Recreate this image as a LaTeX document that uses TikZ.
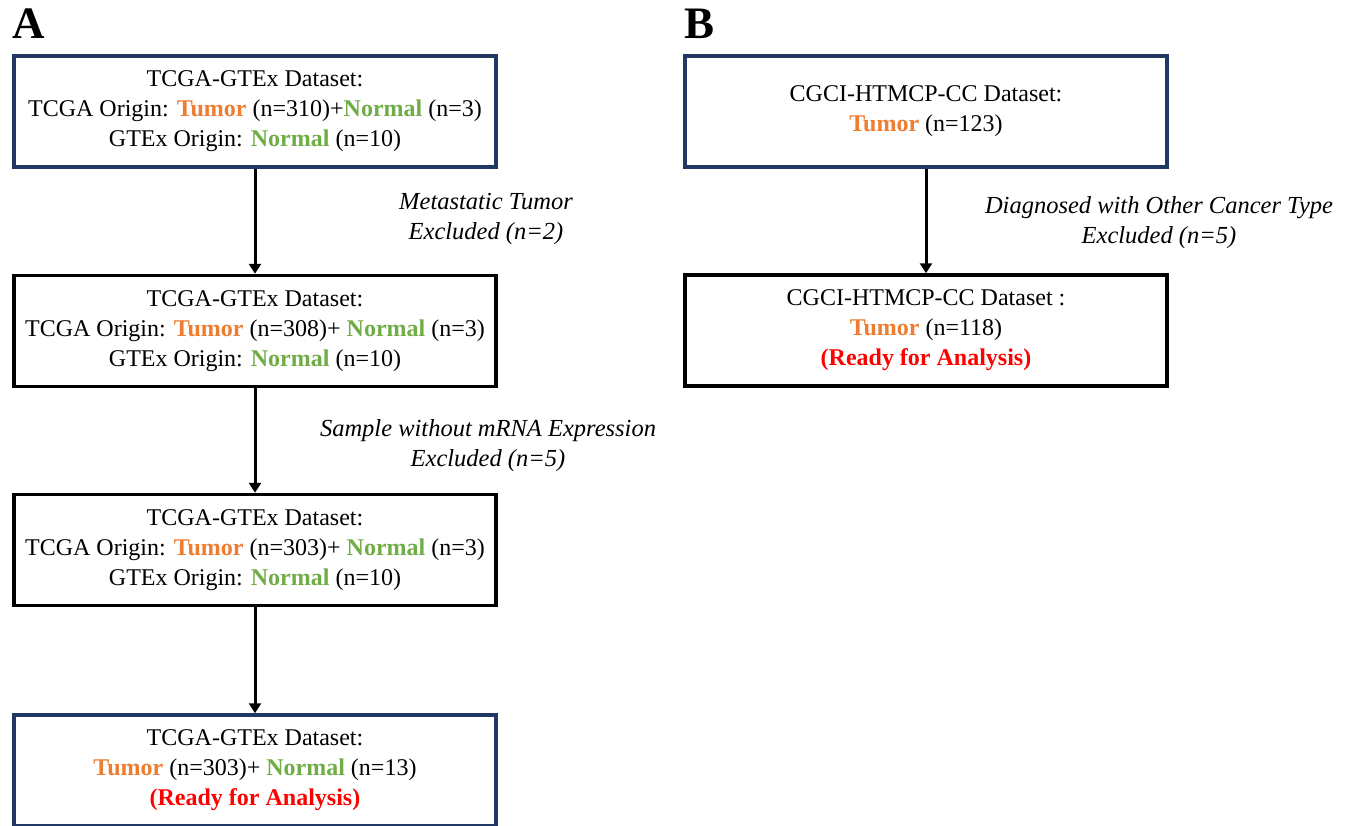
\documentclass[tikz,border=0pt]{standalone}
\usepackage{fontspec}
\setmainfont{Liberation Serif}
\usetikzlibrary{arrows.meta}

\definecolor{tumorc}{HTML}{ED7D31}
\definecolor{normalc}{HTML}{70AD47}
\definecolor{readyc}{HTML}{FF0000}
\definecolor{navyc}{HTML}{1F3864}

\newcommand{\tum}{\textcolor{tumorc}{\textbf{Tumor}}}
\newcommand{\nor}{\textcolor{normalc}{\textbf{Normal}}}
\newcommand{\ready}{\textcolor{readyc}{\textbf{(Ready for Analysis)}}}

\begin{document}
\begin{tikzpicture}[x=1pt, y=-1pt]
		\tikzstyle{every node}=[align=center, font=\fontsize{24}{30}\selectfont]
		\tikzstyle{box}=[draw, line width=3.5pt, minimum width=482pt, minimum height=111pt, inner sep=0pt]
		\tikzstyle{flow}=[line width=3pt, -{Triangle[width=12pt, length=10pt]}]
		\tikzstyle{note}=[font=\fontsize{24.5}{30}\selectfont\itshape]
		\useasboundingbox (0, 0) rectangle (1354, 825);
		% panel A
		\node[anchor=base west, font=\fontsize{45}{45}\selectfont\bfseries] (labA) at (9, 38) {A};
		\node[box, draw=navyc] (A1) at (255, 111.5) {TCGA-GTEx Dataset:\\ TCGA Origin: \tum{} (n=310)+\nor{} (n=3)\\ GTEx Origin: \nor{} (n=10)};
		\node[box] (A2) at (255, 331) {TCGA-GTEx Dataset:\\ TCGA Origin: \tum{} (n=308)+ \nor{} (n=3)\\ GTEx Origin: \nor{} (n=10)};
		\node[box] (A3) at (255, 550) {TCGA-GTEx Dataset:\\ TCGA Origin: \tum{} (n=303)+ \nor{} (n=3)\\ GTEx Origin: \nor{} (n=10)};
		\node[box, draw=navyc] (A4) at (255, 770.5) {TCGA-GTEx Dataset:\\ \tum{} (n=303)+ \nor{} (n=13)\\ \ready};
		\draw[flow] (A1) -- (A2);
		\draw[flow] (A2) -- (A3);
		\draw[flow] (A3) -- (A4);
		\node[note] (exA1) at (486, 219) {Metastatic Tumor\\ Excluded (n=2)};
		\node[note] (exA2) at (488, 446) {Sample without mRNA Expression\\ Excluded (n=5)};
		% panel B
		\node[anchor=base west, font=\fontsize{45}{45}\selectfont\bfseries] (labB) at (681, 38) {B};
		\node[box, draw=navyc] (B1) at (926, 111.5) {CGCI-HTMCP-CC Dataset:\\ \tum{} (n=123)};
		\node[box] (B2) at (926, 330.5) {CGCI-HTMCP-CC Dataset :\\ \tum{} (n=118)\\ \ready};
		\draw[flow] (B1) -- (B2);
		\node[note] (exB1) at (1159, 223) {Diagnosed with Other Cancer Type\\ Excluded (n=5)};
\end{tikzpicture}
\end{document}
